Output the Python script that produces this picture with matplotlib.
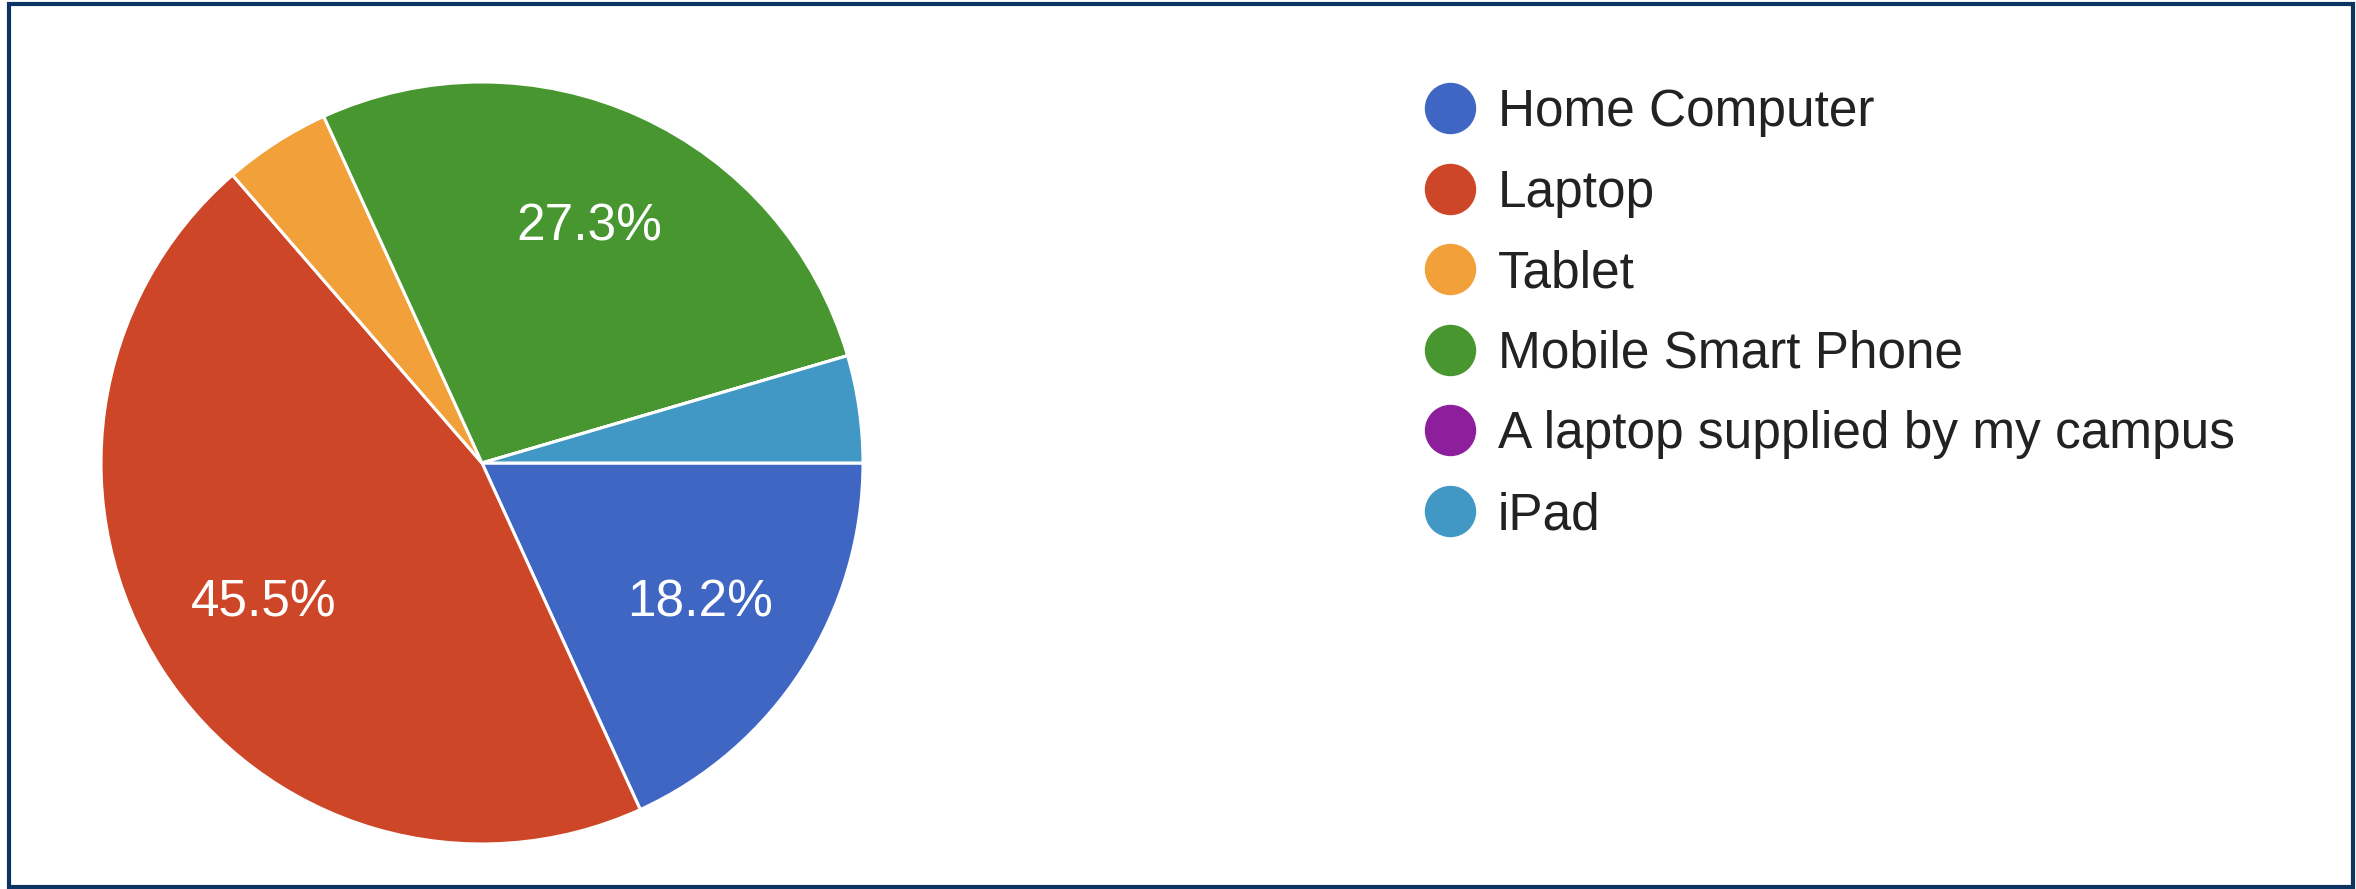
#Pie chart of devices used by respondents (Google Forms style)

import matplotlib.pyplot as plt
from matplotlib.lines import Line2D
from matplotlib.patches import Rectangle

plt.rcParams['font.family'] = ['Liberation Sans', 'DejaVu Sans']

#data
devices = ['Home Computer', 'Laptop', 'Tablet', 'Mobile Smart Phone',
           'A laptop supplied by my campus', 'iPad']
counts = [4, 10, 1, 6, 0, 1]
colors = ['#4066c4', '#cd4627', '#f2a039', '#47962f', '#8e1f9c', '#4298c5']

W, H = 2356, 889
fig = plt.figure(figsize=(W / 100, H / 100), dpi=100)

#pie axes, centre ~(482,463) px, radius ~381 px
cx, cy, r = 482, 463, 381
ax = fig.add_axes([(cx - r) / W, (H - cy - r) / H, 2 * r / W, 2 * r / H])

def pct(p):
    return '%.1f%%' % p if p >= 5 else ''

wedges, texts, autotexts = ax.pie(counts, colors=colors, startangle=0, counterclock=False,
                                  autopct=pct, pctdistance=0.68,
                                  wedgeprops=dict(edgecolor='white', linewidth=2.2),
                                  textprops=dict(color='white', fontsize=37))
ax.set_xlim(-1, 1)
ax.set_ylim(-1, 1)
for w in wedges:
    w.set_clip_on(False)

#legend
handles = [Line2D([], [], marker='o', linestyle='none', markersize=36,
                  markerfacecolor=c, markeredgecolor=c) for c in colors]
fig.legend(handles, devices, loc='upper left', bbox_to_anchor=(1425 / W, 1 - 88 / H),
           frameon=False, fontsize=37, borderpad=0, borderaxespad=0,
           handlelength=0.97, handletextpad=0.45, labelspacing=0.615, labelcolor='#222222')

#dark blue frame around the image
fig.patches.append(Rectangle((9 / W, 2 / H), (2353 - 9) / W, (885 - 2) / H,
                             transform=fig.transFigure, fill=False,
                             edgecolor='#0c3462', linewidth=3))

fig.savefig('out.png', dpi=100)
